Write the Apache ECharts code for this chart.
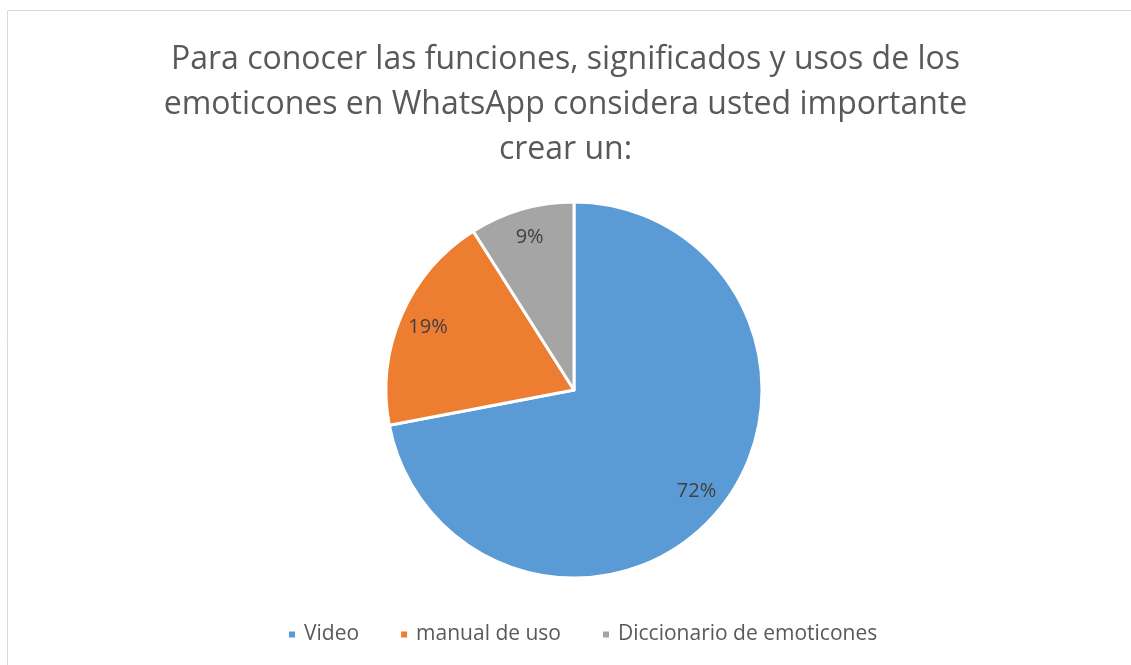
<!DOCTYPE html>
<html>
<head>
<meta charset="utf-8">
<script src="https://cdn.jsdelivr.net/npm/echarts@6/dist/echarts.min.js"></script>
<style>
  html, body { margin: 0; padding: 0; background: #fff; }
  #chart { width: 1131px; height: 665px; }
</style>
</head>
<body>
<div id="chart"></div>
<script>
const titleText = 'Para conocer las funciones, significados y usos de los\nemoticones en WhatsApp considera usted importante\ncrear un:'
const categories = ['Video', 'manual de uso', 'Diccionario de emoticones']
const values = [72, 19, 9]
const colors = ['#5b9bd5', '#ed7d31', '#a5a5a5']

const fontFamily = '"Open Sans", Lato, sans-serif'
const pieCenter = [574, 390]
const pieRadius = 188

const chart = echarts.init(document.getElementById('chart'), null, { renderer: 'canvas' })

const pieData = categories.map((name, i) => ({
  name,
  value: values[i],
  itemStyle: { color: colors[i] }
}))

const option = {
  animation: false,
  backgroundColor: '#fff',
  graphic: [{
    type: 'rect',
    shape: { x: 7.5, y: 10.5, width: 1200, height: 700 },
    style: { fill: 'none', stroke: '#d9d9d9', lineWidth: 1 },
    silent: true
  }],
  title: {
    text: titleText,
    left: 'center',
    top: 32,
    textStyle: {
      fontFamily,
      fontSize: 32,
      fontWeight: 'normal',
      color: '#595959',
      lineHeight: 45
    }
  },
  legend: {
    bottom: 15,
    left: 282,
    icon: 'rect',
    itemWidth: 8,
    itemHeight: 8,
    itemGap: 40,
    data: categories,
    textStyle: { fontFamily, fontSize: 21, color: '#595959', padding: [0, 0, 0, 3] }
  },
  series: [{
    type: 'pie',
    center: pieCenter,
    radius: [0, pieRadius],
    startAngle: 90,
    clockwise: true,
    data: pieData,
    itemStyle: { borderColor: '#fff', borderWidth: 3 },
    label: { show: false },
    labelLine: { show: false },
    emphasis: { disabled: true }
  }, {
    // transparent ring used only to place the percent labels at ~0.83 of the radius
    type: 'pie',
    center: pieCenter,
    radius: [pieRadius * 0.66, pieRadius],
    startAngle: 90,
    clockwise: true,
    silent: true,
    legendHoverLink: false,
    data: categories.map((name, i) => ({ name, value: values[i] })),
    itemStyle: { color: 'rgba(0,0,0,0)', borderWidth: 0 },
    label: {
      show: true,
      position: 'inside',
      formatter: '{d}%',
      fontFamily,
      fontSize: 20,
      color: '#404040'
    },
    labelLine: { show: false },
    emphasis: { disabled: true }
  }]
}

chart.setOption(option)
window.addEventListener('resize', () => chart.resize())
</script>
</body>
</html>
